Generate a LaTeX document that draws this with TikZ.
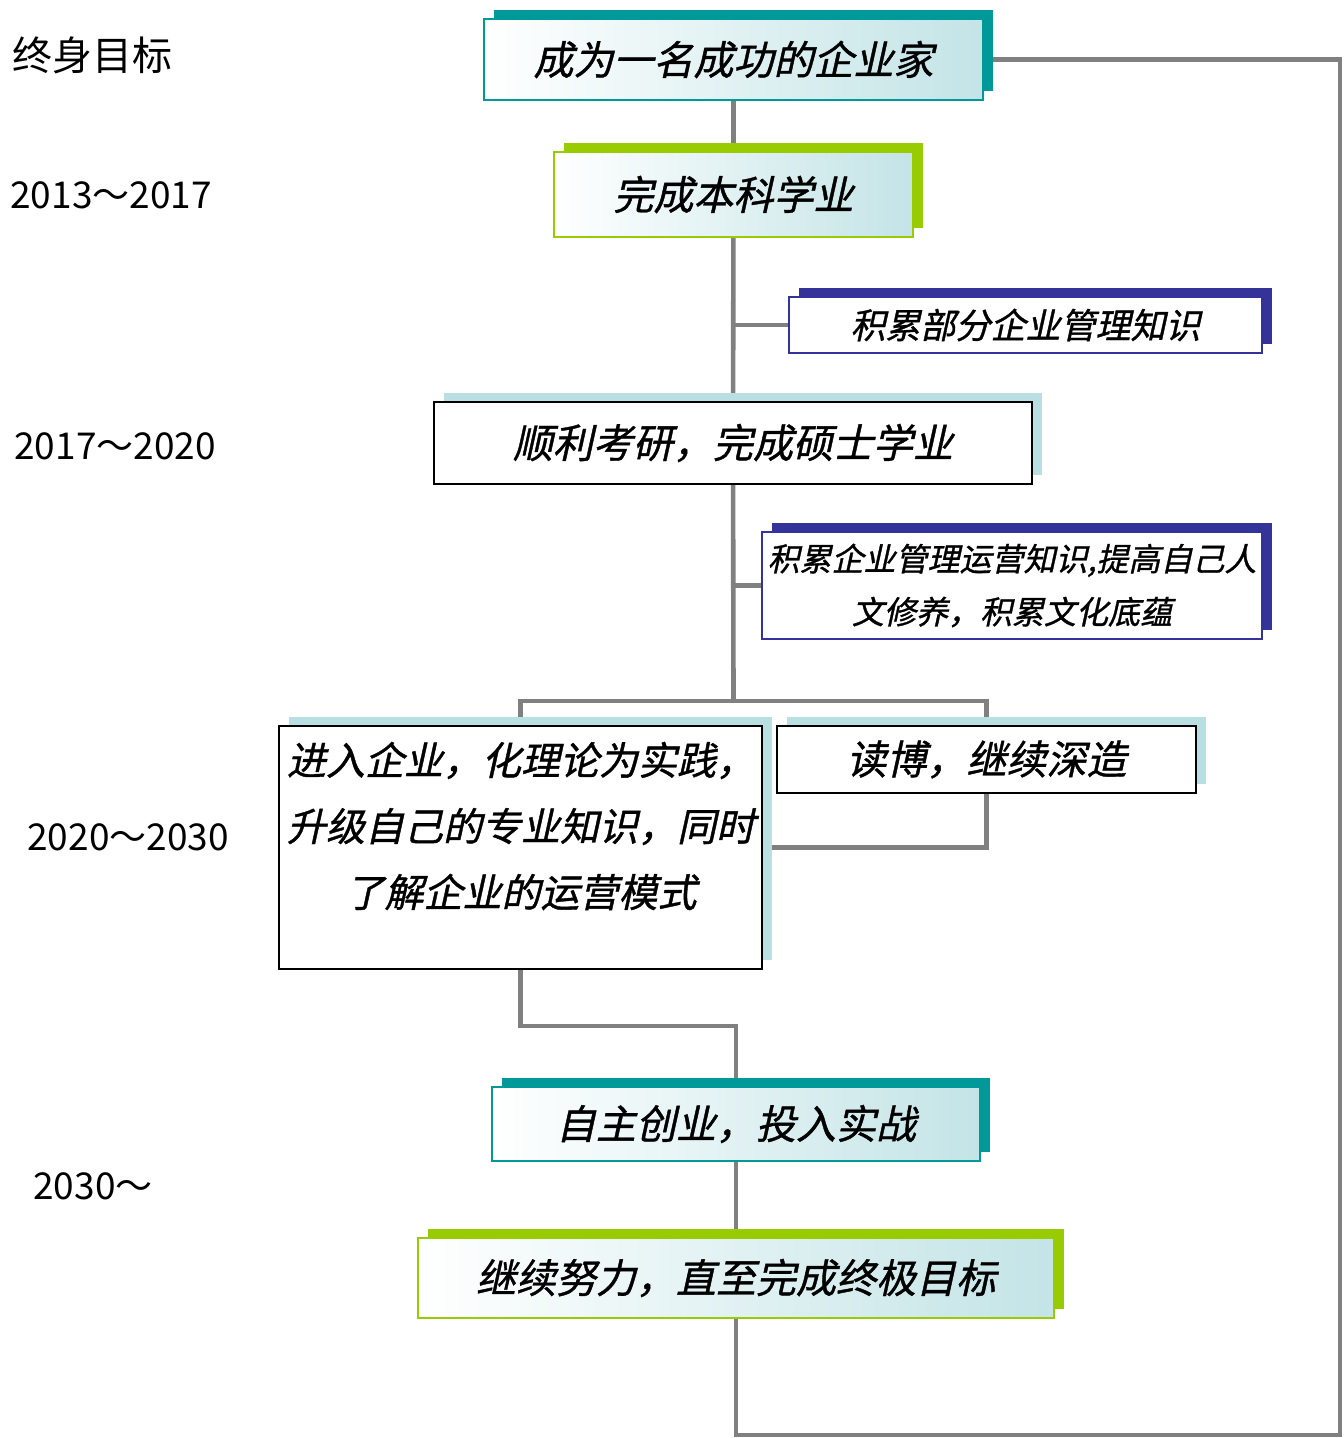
\documentclass[tikz,border=0pt]{standalone}
\usepackage{fontspec}
\newfontfamily\cjk{Noto Sans CJK SC}
\newfontfamily\kai[FakeSlant=0.22,FakeBold=1]{Noto Sans CJK SC}
\usetikzlibrary{shadows,backgrounds,calc}
\definecolor{tealsh}{HTML}{009999}
\definecolor{limesh}{HTML}{99CC00}
\definecolor{navysh}{HTML}{333399}
\definecolor{palesh}{HTML}{B9DFE2}
\definecolor{linegray}{HTML}{808080}

\tikzset{
  box/.style={inner sep=0pt, align=center, font=\kai\fontsize{20pt}{24pt}\selectfont},
  sh/.style={general shadow={fill=#1, draw=none, shadow xshift=5pt, shadow yshift=4.5pt}},
  tealbox/.style={box, draw=tealsh, line width=1pt, left color=white, right color=palesh!85, sh=tealsh},
  limebox/.style={box, draw=limesh, line width=1pt, left color=white, right color=palesh!85, sh=limesh},
  navybox/.style={box, draw=navysh, line width=1pt, fill=white, sh=navysh},
  plainbox/.style={box, draw=black, line width=1pt, fill=white, sh=palesh},
  link/.style={draw=linegray, line width=2.3pt},
  yr/.style={anchor=west, inner sep=0pt, font=\cjk\fontsize{18.5pt}{20pt}\selectfont}
}

\begin{document}
\begin{tikzpicture}[x=0.5pt, y=-0.5pt]
  \useasboundingbox (0,0) rectangle (1343,1438);

  % years
  \node[yr, font=\cjk\fontsize{20pt}{22pt}\selectfont] (life) at (12,55) {终身目标};
  \node[yr] (y1) at (10,195) {2013～2017};
  \node[yr] (y2) at (14,446) {2017～2020};
  \node[yr] (y3) at (27,837) {2020～2030};
  \node[yr] (y4) at (33,1186) {2030～};

  % boxes
  \node[tealbox, minimum width=249.5pt, minimum height=40.5pt] (goal) at (733.5,59.5) {成为一名成功的企业家};
  \node[limebox, minimum width=179.5pt, minimum height=42.5pt] (ben) at (733.5,194.5) {完成本科学业};
  \node[navybox, minimum width=236.5pt, minimum height=28pt,
        font=\kai\fontsize{17.5pt}{20pt}\selectfont] (acc1) at (1025.5,325) {积累部分企业管理知识};
  \node[plainbox, minimum width=299pt, minimum height=41pt] (kaoyan) at (733,443) {顺利考研，完成硕士学业};
  \node[navybox, minimum width=250pt, minimum height=53.5pt,
        font=\kai\fontsize{16pt}{26.5pt}\selectfont] (acc2) at (1012,585.5) {积累企业管理运营知识,提高自己人\\文修养，积累文化底蕴};
  \node[plainbox, minimum width=241.5pt, minimum height=121.5pt] (work) at (520.5,847.5) {};
  \node[box, font=\kai\fontsize{19.5pt}{33pt}\selectfont] (worktxt) at (521,826) {进入企业，化理论为实践，\\升级自己的专业知识，同时\\了解企业的运营模式};
  \node[plainbox, minimum width=209.5pt, minimum height=33.5pt] (phd) at (986.5,759.5) {读博，继续深造};
  \node[tealbox, minimum width=244pt, minimum height=37pt] (startup) at (736,1124) {自主创业，投入实战};
  \node[limebox, minimum width=318pt, minimum height=40pt] (final) at (736,1278) {继续努力，直至完成终极目标};

  \coordinate (split) at (733.5,701);
  \coordinate (rt) at (1340,1435);

  % lines
  \begin{scope}[on background layer]
    \draw[link] (goal) -- (ben);
    \draw[link] (goal.east) -| (rt) -| (final.south);
    \draw[link] (ben) -- (kaoyan);
    \draw[link] (acc1.west) -- (acc1.west -| ben.south);
    \draw[link] (kaoyan) -- (split);
    \draw[link] (acc2.west) -- (acc2.west -| kaoyan.south);
    \draw[link] (work.north) |- (split) -| (phd.north);
    \draw[link] (phd.south) |- (work.east);
    \draw[link] (work.south) -- ++(0,56) -| (startup.north);
    \draw[link] (startup) -- (final);
  \end{scope}
\end{tikzpicture}
\end{document}
